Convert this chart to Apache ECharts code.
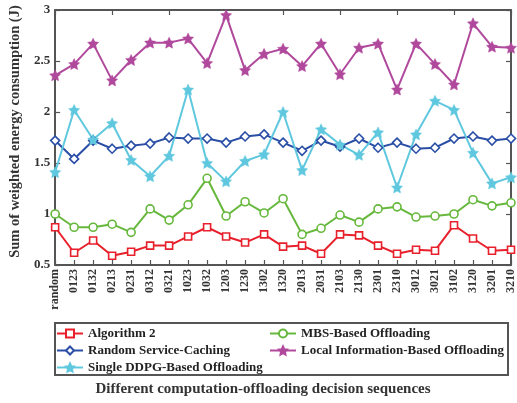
<!DOCTYPE html>
<html>
<head>
<meta charset="utf-8">
<script src="https://cdn.jsdelivr.net/npm/echarts@6/dist/echarts.min.js"></script>
<style>
  html, body { margin: 0; padding: 0; background: #fff; }
  #chart { width: 517px; height: 403px; }
</style>
</head>
<body>
<div id="chart"></div>
<script>
// Decision sequences on the x axis
const sequences = ['random', '0123', '0132', '0213', '0231', '0312', '0321', '1023', '1032', '1203',
  '1230', '1302', '1320', '2013', '2031', '2103', '2130', '2301', '2310', '3012',
  '3021', '3102', '3120', '3201', '3210'];

// Sum of weighted energy consumption (J) per scheme
const algorithm2 = [0.87, 0.62, 0.74, 0.59, 0.63, 0.69, 0.69, 0.78, 0.87, 0.78,
  0.72, 0.80, 0.68, 0.69, 0.61, 0.80, 0.79, 0.69, 0.61, 0.65,
  0.64, 0.89, 0.76, 0.64, 0.65];
const mbsOffloading = [1.00, 0.87, 0.87, 0.90, 0.82, 1.05, 0.94, 1.09, 1.35, 0.98,
  1.12, 1.01, 1.15, 0.80, 0.86, 0.99, 0.92, 1.05, 1.07, 0.97,
  0.98, 1.00, 1.14, 1.08, 1.11];
const randomCaching = [1.72, 1.54, 1.72, 1.64, 1.67, 1.69, 1.75, 1.74, 1.74, 1.70,
  1.76, 1.78, 1.70, 1.62, 1.72, 1.66, 1.74, 1.65, 1.70, 1.64,
  1.65, 1.74, 1.76, 1.72, 1.74];
const localInfo = [2.36, 2.47, 2.67, 2.31, 2.51, 2.68, 2.68, 2.72, 2.48, 2.95,
  2.41, 2.57, 2.62, 2.45, 2.67, 2.37, 2.63, 2.67, 2.22, 2.67,
  2.47, 2.27, 2.87, 2.64, 2.63];
const singleDdpg = [1.41, 2.02, 1.73, 1.89, 1.53, 1.37, 1.57, 2.22, 1.50, 1.32,
  1.52, 1.585, 2.00, 1.43, 1.83, 1.68, 1.58, 1.80, 1.26, 1.78,
  2.11, 2.02, 1.60, 1.30, 1.36];

const yTicks = [0.5, 1, 1.5, 2, 2.5, 3];

const serif = '"Liberation Serif", "DejaVu Serif", serif';
const frameColor = '#555';
const starPath = 'path://M0,-10 L2.9,-4 L9.5,-3.1 L4.7,1.5 L5.9,8.1 L0,5 L-5.9,8.1 L-4.7,1.5 L-9.5,-3.1 L-2.9,-4 Z';

function makeSeries(name, data, color, symbol, size, hollow) {
  return {
    name: name,
    type: 'line',
    data: data,
    symbol: symbol,
    symbolSize: size,
    showSymbol: true,
    lineStyle: { color: color, width: 2 },
    itemStyle: hollow
      ? { color: '#fff', borderColor: color, borderWidth: 1.6 }
      : { color: color, borderColor: color, borderWidth: 0.5 },
    emphasis: { disabled: true },
    animation: false
  };
}

const chart = echarts.init(document.getElementById('chart'), null, { renderer: 'canvas' });

const axisCommon = {
  axisLine: { show: true, lineStyle: { color: frameColor, width: 2 } },
  axisTick: { show: true, inside: true, length: 5, lineStyle: { color: frameColor, width: 1.2 } },
  splitLine: { show: false }
};

const legendText = { fontFamily: serif, fontWeight: 'bold', fontSize: 13, color: '#222', lineHeight: 13 };

chart.setOption({
  backgroundColor: '#fff',
  animation: false,
  grid: { left: 50, right: 5, top: 10, bottom: 138, containLabel: false },
  xAxis: [
    Object.assign({}, axisCommon, {
      type: 'category',
      data: sequences,
      boundaryGap: false,
      position: 'bottom',
      axisTick: Object.assign({}, axisCommon.axisTick, { alignWithLabel: true }),
      axisLabel: {
        rotate: 90, interval: 0, margin: 4,
        fontFamily: serif, fontWeight: 'bold', fontSize: 12, color: '#333'
      }
    }),
    Object.assign({}, axisCommon, {
      type: 'category',
      data: sequences,
      boundaryGap: false,
      position: 'top',
      axisLabel: { show: false }
    })
  ],
  yAxis: [
    Object.assign({}, axisCommon, {
      type: 'value',
      min: yTicks[0],
      max: yTicks[yTicks.length - 1],
      interval: 0.5,
      position: 'left',
      name: 'Sum of weighted energy consumption (J)',
      nameLocation: 'middle',
      nameGap: 32,
      nameTextStyle: { fontFamily: serif, fontWeight: 'bold', fontSize: 14.5, color: '#333', padding: [0, 0, 0, 12] },
      axisLabel: { fontFamily: serif, fontWeight: 'bold', fontSize: 13, color: '#333', margin: 5 }
    }),
    Object.assign({}, axisCommon, {
      type: 'value',
      min: yTicks[0],
      max: yTicks[yTicks.length - 1],
      interval: 0.5,
      position: 'right',
      axisLabel: { show: false }
    })
  ],
  legend: [
    {
      orient: 'vertical', left: 56, top: 327, itemGap: 4, padding: 0,
      itemWidth: 26, itemHeight: 10, textGap: 3,
      textStyle: legendText,
      selectedMode: false,
      data: ['Algorithm 2', 'Random Service-Caching', 'Single DDPG-Based Offloading']
    },
    {
      orient: 'vertical', left: 269, top: 327, itemGap: 4, padding: 0,
      itemWidth: 26, itemHeight: 10, textGap: 3,
      textStyle: legendText,
      selectedMode: false,
      data: ['MBS-Based Offloading', 'Local Information-Based Offloading']
    }
  ],
  graphic: [
    {
      type: 'rect',
      shape: { x: 55, y: 323, width: 453, height: 52 },
      style: { fill: 'none', stroke: frameColor, lineWidth: 2 },
      silent: true
    },
    {
      type: 'text',
      x: 263, y: 382,
      style: {
        text: 'Different computation-offloading decision sequences',
        font: 'bold 15px ' + serif,
        fill: '#333',
        textAlign: 'center'
      },
      silent: true
    }
  ],
  series: [
    makeSeries('Algorithm 2', algorithm2, '#e8202c', 'rect', 7, true),
    makeSeries('MBS-Based Offloading', mbsOffloading, '#66b83c', 'circle', 8, true),
    makeSeries('Random Service-Caching', randomCaching, '#2a4ea6', 'diamond', 9, true),
    makeSeries('Local Information-Based Offloading', localInfo, '#b0489c', starPath, 11, false),
    makeSeries('Single DDPG-Based Offloading', singleDdpg, '#60c8de', starPath, 11, false)
  ]
});
</script>
</body>
</html>
